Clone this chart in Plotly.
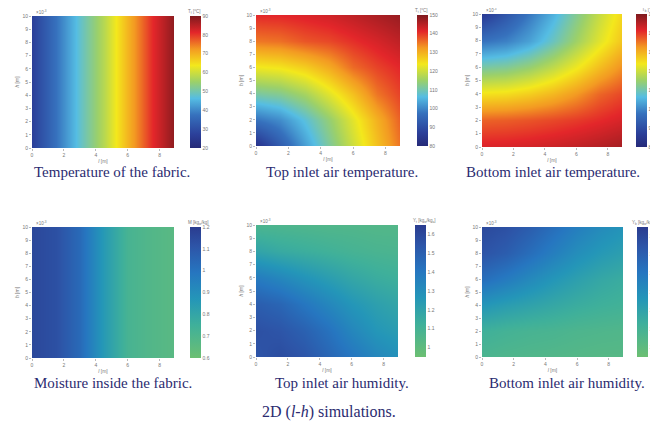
import plotly.graph_objects as go

# page body has an 8px margin; figure occupies 8..658 x 8..428 of the window
OFF = 8
W, H = 658 - OFF, 428 - OFF

# ---- data ----
l_grid = [0, 1.5, 3, 4.5, 6, 7.5, 9]
h_grid = [0, 2, 4, 6, 8, 10]

# Temperature of the fabric (varies along l only)
fabric_T = [27, 37.5, 48, 57.8, 69.7, 80.9, 89.3]

# Top inlet air temperature, rows h = 0..10
top_air_T = [
    [83.5, 93.0, 102.6, 111.4, 120.0, 128.2, 136.1],
    [97.5, 100.6, 107.0, 114.2, 122.1, 130.0, 137.5],
    [110.8, 112.2, 116.1, 121.9, 128.2, 135.3, 139.5],
    [123.4, 124.3, 126.8, 130.7, 136.1, 139.1, 141.5],
    [135.1, 135.7, 137.7, 138.7, 140.6, 142.5, 144.7],
    [141.1, 141.3, 142.0, 143.0, 144.5, 146.2, 147.9],
]

# Bottom inlet air temperature, rows h = 0..10
bottom_air_T = [
    [142.2, 142.4, 142.8, 143.5, 144.4, 145.5, 146.8],
    [136.7, 137.1, 137.8, 138.7, 139.7, 141.0, 142.5],
    [124.6, 125.2, 126.8, 129.3, 132.5, 136.6, 139.0],
    [110.8, 111.8, 114.4, 118.5, 123.2, 128.7, 133.7],
    [97.5, 99.3, 103.0, 108.9, 115.4, 122.1, 128.2],
    [85.6, 91.9, 98.2, 104.8, 112.1, 119.5, 126.3],
]

# Moisture inside the fabric (varies along l only)
fabric_M = [1.158, 1.128, 1.032, 0.852, 0.72, 0.684, 0.66]

# Top inlet air humidity, rows h = 0..10
top_air_Y = [
    [1.545, 1.58, 1.545, 1.475, 1.405, 1.335, 1.286],
    [1.566, 1.545, 1.496, 1.426, 1.335, 1.265, 1.23],
    [1.51, 1.475, 1.405, 1.335, 1.265, 1.216, 1.181],
    [1.384, 1.335, 1.279, 1.23, 1.181, 1.146, 1.125],
    [1.195, 1.16, 1.139, 1.118, 1.097, 1.083, 1.076],
    [1.076, 1.069, 1.062, 1.055, 1.055, 1.048, 1.048],
]

# Bottom inlet air humidity, rows h = 0..10
bottom_air_Y = [
    [1.076, 1.062, 1.055, 1.048, 1.041, 1.034, 1.034],
    [1.125, 1.104, 1.09, 1.083, 1.069, 1.062, 1.055],
    [1.265, 1.23, 1.202, 1.174, 1.146, 1.125, 1.111],
    [1.44, 1.384, 1.321, 1.265, 1.216, 1.174, 1.146],
    [1.552, 1.51, 1.44, 1.37, 1.3, 1.251, 1.216],
    [1.594, 1.566, 1.51, 1.44, 1.37, 1.314, 1.272],
]

x_ticks = [0, 2, 4, 6, 8]
y_ticks = [0, 1, 2, 3, 4, 5, 6, 7, 8, 9, 10]

captions = [
    "Temperature of the fabric.",
    "Top inlet air temperature.",
    "Bottom inlet air temperature.",
    "Moisture inside the fabric.",
    "Top inlet air humidity.",
    "Bottom inlet air humidity.",
]
cb_titles = ["T<sub>f</sub> [°C]", "T<sub>t</sub> [°C]", "T<sub>b</sub> [°C]",
             "M [kg<sub>w</sub>/kg]", "Y<sub>t</sub> [kg<sub>w</sub>/kg<sub>a</sub>]",
             "Y<sub>b</sub> [kg<sub>w</sub>/kg<sub>a</sub>]"]
main_caption = "2D (<i>l</i>-<i>h</i>) simulations."

# ---- styles ----
jet = [[0.0, '#262a78'], [0.1, '#2b3f99'], [0.25, '#3671bd'], [0.375, '#55bde3'],
       [0.5, '#9bd06a'], [0.625, '#f3e81c'], [0.75, '#f39a22'], [0.875, '#e3262a'],
       [1.0, '#7e1a1e']]
hum = [[0.0, '#6cbf72'], [0.25, '#3fb09a'], [0.45, '#2496b8'], [0.65, '#2676c0'],
       [0.85, '#2d55a8'], [1.0, '#2a3c8f']]


def px(x):
    return (x - OFF) / W


def py(y):
    return 1 - (y - OFF) / H


# window pixel boxes: (x0, x1, y0, y1) plot area; colorbar x0
panels = [
    (32, 174, 16, 148, 190),
    (256, 400, 15, 146, 417),
    (482, 622, 14, 147, 636),
    (32, 174, 227, 358, 190),
    (256, 398, 225, 357, 415),
    (482, 623, 227, 357, 637),
]
zdata = [[fabric_T, fabric_T], top_air_T, bottom_air_T,
         [fabric_M, fabric_M], top_air_Y, bottom_air_Y]
hgrids = [[0, 10], h_grid, h_grid, [0, 10], h_grid, h_grid]
scales = [jet, jet, jet, hum, hum, hum]
zr = [(20, 90), (80, 150), (80, 150), (0.6, 1.2), (0.95, 1.65), (0.95, 1.65)]
cbt = [[20, 30, 40, 50, 60, 70, 80, 90],
       [80, 90, 100, 110, 120, 130, 140, 150],
       [80, 90, 100, 110, 120, 130, 140, 150],
       [0.6, 0.7, 0.8, 0.9, 1.0, 1.1, 1.2],
       [1.0, 1.1, 1.2, 1.3, 1.4, 1.5, 1.6],
       [1.0, 1.1, 1.2, 1.3, 1.4, 1.5, 1.6]]

fig = go.Figure()
tick_font = dict(family="Liberation Sans", size=5, color="#777777")
small_font = dict(family="Liberation Sans", size=4.5, color="#777777")
layout = {}
annotations = []
for i, (x0, x1, y0, y1, cbx) in enumerate(panels):
    k = "" if i == 0 else str(i + 1)
    fig.add_trace(go.Heatmap(
        x=l_grid, y=hgrids[i], z=zdata[i], zsmooth="best",
        colorscale=scales[i], zmin=zr[i][0], zmax=zr[i][1],
        xaxis="x" + k, yaxis="y" + k,
        colorbar=dict(
            x=px(cbx), xanchor="left", y=py(y0), yanchor="top",
            len=(y1 - y0) / H, lenmode="fraction", thickness=11,
            xpad=0, ypad=0, outlinewidth=0, tickvals=cbt[i],
            ticks="", tickfont=small_font if cbx > 600 else tick_font,
            ticklabelposition="outside",
        ),
    ))
    layout["xaxis" + k] = dict(
        domain=[px(x0), px(x1)], anchor="y" + k, range=[0, 8.9],
        tickvals=x_ticks, ticks="outside", ticklen=2, tickcolor="#bbbbbb",
        tickfont=tick_font, showgrid=False, zeroline=False,
        title=dict(text="<i>l</i> [m]", font=tick_font, standoff=2),
    )
    layout["yaxis" + k] = dict(
        domain=[py(y1), py(y0)], anchor="x" + k, range=[0, 10],
        tickvals=y_ticks, ticks="outside", ticklen=2, tickcolor="#bbbbbb",
        tickfont=tick_font, showgrid=False, zeroline=False,
        title=dict(text="<i>h</i> [m]", font=tick_font, standoff=2),
    )
    annotations.append(dict(
        text="×10<sup>-3</sup>", x=px(x0 + 2), y=py(y0 + 1),
        xref="paper", yref="paper", xanchor="left", yanchor="bottom",
        showarrow=False, font=small_font,
    ))
    # colorbar title
    if cbx > 600:
        tx, anc = px(657), "right"
    else:
        tx, anc = px(cbx - 4), "left"
    annotations.append(dict(
        text=cb_titles[i], x=tx, y=py(y0 + 1),
        xref="paper", yref="paper", xanchor=anc, yanchor="bottom",
        showarrow=False, font=small_font,
    ))

cap_pos = [(112, 172), (342, 172), (553, 172), (113, 383), (342, 383), (567, 383)]
for txt, (cx, cy) in zip(captions, cap_pos):
    annotations.append(dict(
        text=txt, x=px(cx), y=py(cy), xref="paper", yref="paper",
        xanchor="center", yanchor="middle", showarrow=False,
        font=dict(family="Liberation Serif", size=15, color="#2b2b70"),
    ))
annotations.append(dict(
    text=main_caption, x=px(329), y=py(412), xref="paper", yref="paper",
    xanchor="center", yanchor="middle", showarrow=False,
    font=dict(family="Liberation Serif", size=16, color="#2b2b70"),
))

fig.update_layout(
    width=W, height=H, margin=dict(l=0, r=0, t=0, b=0, autoexpand=False),
    paper_bgcolor="white", plot_bgcolor="white", showlegend=False,
    annotations=annotations, **layout,
)
fig.write_html("out.html")
